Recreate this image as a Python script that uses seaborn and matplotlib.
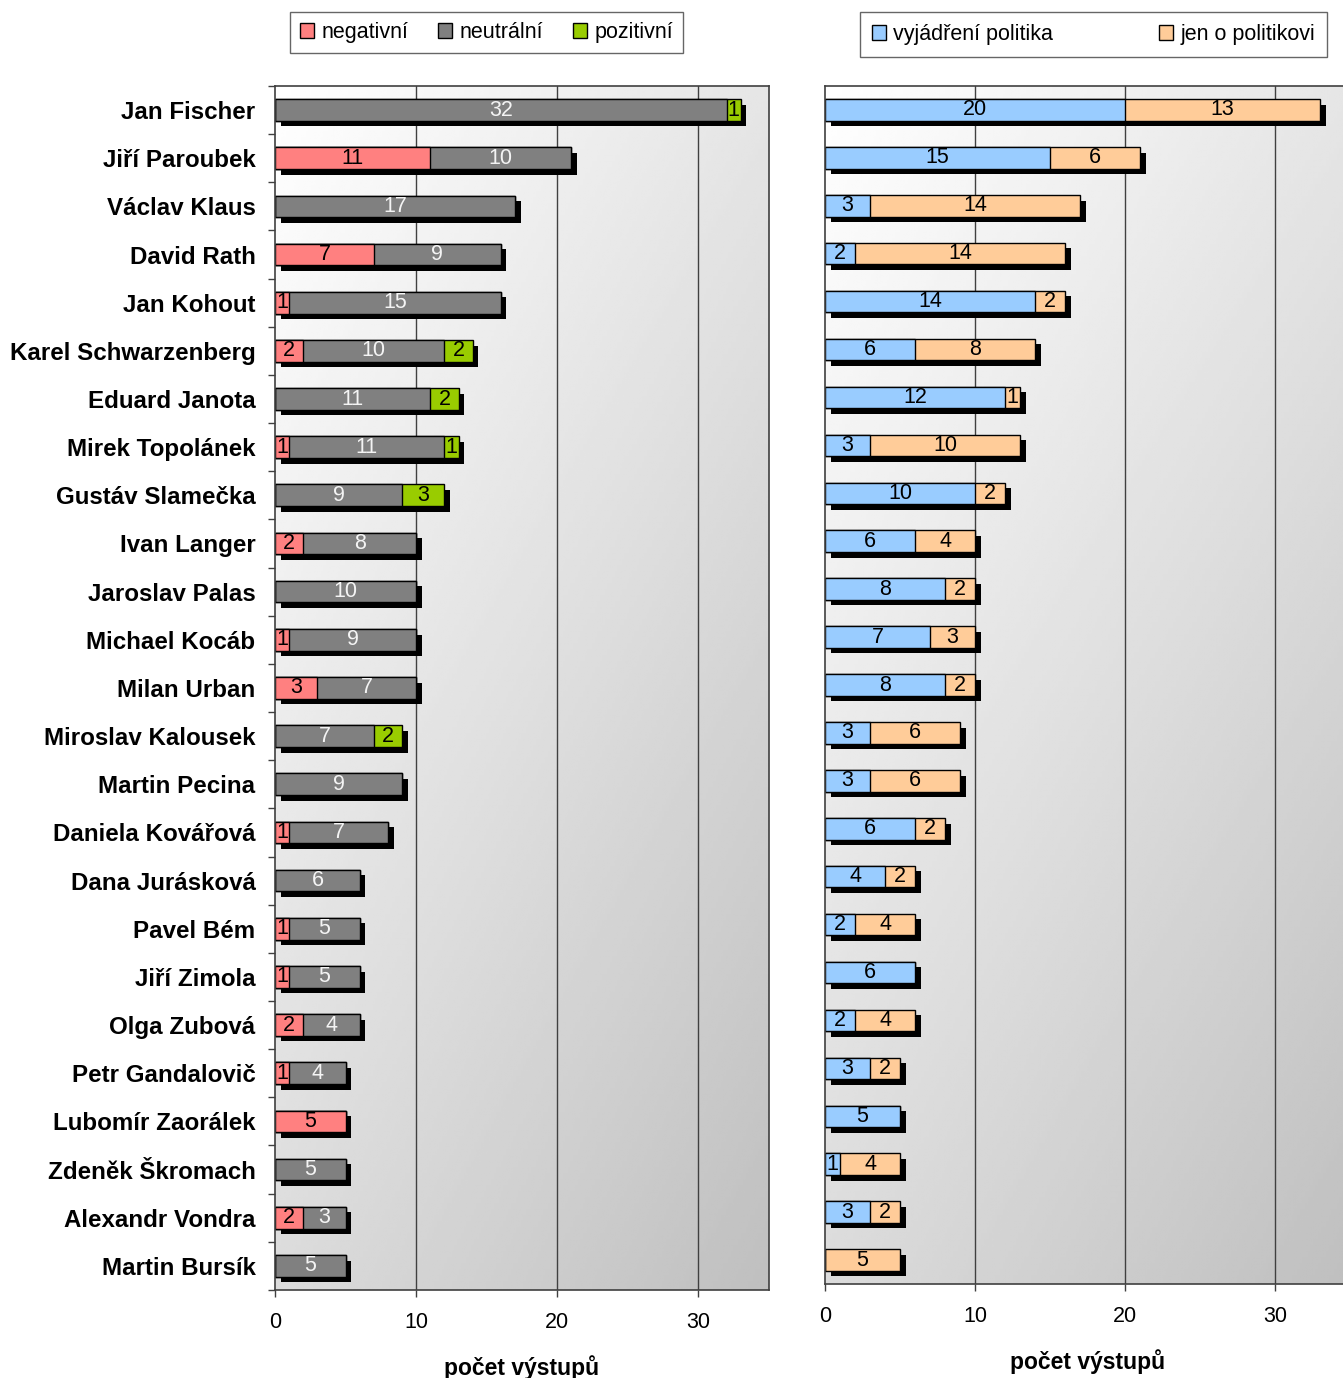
import numpy as np
import pandas as pd
import matplotlib
matplotlib.use('Agg')
import matplotlib.pyplot as plt
import matplotlib.patheffects as pe
from matplotlib.patches import Patch
import seaborn as sns

# Data
names = ['Jan Fischer', 'Jiří Paroubek', 'Václav Klaus', 'David Rath', 'Jan Kohout',
         'Karel Schwarzenberg', 'Eduard Janota', 'Mirek Topolánek', 'Gustáv Slamečka',
         'Ivan Langer', 'Jaroslav Palas', 'Michael Kocáb', 'Milan Urban',
         'Miroslav Kalousek', 'Martin Pecina', 'Daniela Kovářová', 'Dana Jurásková',
         'Pavel Bém', 'Jiří Zimola', 'Olga Zubová', 'Petr Gandalovič',
         'Lubomír Zaorálek', 'Zdeněk Škromach', 'Alexandr Vondra', 'Martin Bursík']
negativni = [0, 11, 0, 7, 1, 2, 0, 1, 0, 2, 0, 1, 3, 0, 0, 1, 0, 1, 1, 2, 1, 5, 0, 2, 0]
neutralni = [32, 10, 17, 9, 15, 10, 11, 11, 9, 8, 10, 9, 7, 7, 9, 7, 6, 5, 5, 4, 4, 0, 5, 3, 5]
pozitivni = [1, 0, 0, 0, 0, 2, 2, 1, 3, 0, 0, 0, 0, 2, 0, 0, 0, 0, 0, 0, 0, 0, 0, 0, 0]
vyjadreni = [20, 15, 3, 2, 14, 6, 12, 3, 10, 6, 8, 7, 8, 3, 3, 6, 4, 2, 6, 2, 3, 5, 1, 3, 0]
jen_o = [13, 6, 14, 14, 2, 8, 1, 10, 2, 4, 2, 3, 2, 6, 6, 2, 2, 4, 0, 4, 2, 0, 4, 2, 5]

left_series = [('negativní', negativni, '#FF8080', 'black'),
               ('neutrální', neutralni, '#808080', '#f4f4f4'),
               ('pozitivní', pozitivni, '#99CC00', 'black')]
right_series = [('vyjádření politika', vyjadreni, '#99CCFF', 'black'),
                ('jen o politikovi', jen_o, '#FFCC99', 'black')]

sns.set_style('white')
plt.rcParams['font.family'] = ['Liberation Sans', 'DejaVu Sans']
plt.rcParams['text.color'] = 'black'
plt.rcParams['axes.labelcolor'] = 'black'
plt.rcParams['xtick.color'] = 'black'
plt.rcParams['ytick.color'] = 'black'

fig = plt.figure(figsize=(13.43, 13.78), dpi=100)
ax1 = fig.add_axes([0.2048, 0.0639, 0.3678, 0.8737])
ax2 = fig.add_axes([0.6143, 0.0682, 0.3910, 0.8694])

shadow = [pe.SimplePatchShadow(offset=(4, -4), shadow_rgbFace='black', alpha=1.0), pe.Normal()]


def stacked(ax, series, xlim):
    # overlapping cumulative bars, longest first
    cum = np.cumsum([s[1] for s in series], axis=0)
    for i in range(len(series) - 1, -1, -1):
        n_before = len(ax.patches)
        df = pd.DataFrame({'name': names, 'val': cum[i]})
        sns.barplot(data=df, x='val', y='name', orient='h', color=series[i][2],
                    saturation=1, width=0.45, edgecolor='black', linewidth=1,
                    errorbar=None, ax=ax, zorder=2)
        if i == len(series) - 1:
            for p in ax.patches[n_before:]:
                p.set_path_effects(shadow)
    # segment labels
    for i, (label, vals, col, tcol) in enumerate(series):
        start = cum[i] - np.array(vals)
        for j, v in enumerate(vals):
            if v > 0:
                ax.text(start[j] + v / 2, j, str(v), ha='center', va='center',
                        fontsize=15.5, color=tcol, zorder=5)
    # gradient background (white top-left -> grey bottom-right)
    gx, gy = np.meshgrid(np.linspace(0, 1, 200), np.linspace(0, 1, 200))
    grad = 1.0 - 0.10 * gx - 0.14 * gy - 0.01 * gx * gy
    ax.imshow(grad, extent=[0, 1, 0, 1], transform=ax.transAxes, aspect='auto',
              cmap='gray', vmin=0, vmax=1, zorder=-1, interpolation='bilinear')
    ax.set_xlim(0, xlim)
    ax.set_ylim(len(names) - 0.5, -0.5)
    ax.set_xticks([0, 10, 20, 30])
    for x in [10, 20, 30]:
        ax.axvline(x, color='#404040', lw=1, zorder=1)
    ax.tick_params(axis='x', direction='out', length=5, width=1, color='#404040',
                   labelsize=15.5, pad=11, bottom=True)
    for s in ax.spines.values():
        s.set_color('#404040')
        s.set_linewidth(1.2)
    ax.set_xlabel('počet výstupů', fontsize=16.5, fontweight='bold', labelpad=16)
    ax.set_ylabel('')


stacked(ax1, left_series, 35)
stacked(ax2, right_series, 35)

ax1.tick_params(axis='y', length=0, pad=14, labelsize=17.4)
for t in ax1.get_yticklabels():
    t.set_fontweight('bold')
ax1.set_yticks(np.arange(-0.5, len(names), 1), minor=True)
ax1.tick_params(axis='y', which='minor', direction='out', length=5, width=1,
                color='#404040', left=True)
ax2.set_yticks([])
ax2.set_yticklabels([])

h1 = [Patch(facecolor=c, edgecolor='black', label=l) for l, _, c, _ in left_series]
fig.legend(handles=h1, loc='center', bbox_to_anchor=(0.3623, 0.9764), ncol=3,
           fontsize=15.5, frameon=True, fancybox=False, edgecolor='#404040',
           handlelength=0.65, handleheight=0.65, handletextpad=0.35, columnspacing=1.4,
           borderpad=0.45)
h2 = [Patch(facecolor=c, edgecolor='black', label=l) for l, _, c, _ in right_series]
fig.legend(handles=h2, loc='center', bbox_to_anchor=(0.8142, 0.975), ncol=2,
           fontsize=15.5, frameon=True, fancybox=False, edgecolor='#404040',
           handlelength=0.65, handleheight=0.65, handletextpad=0.35, columnspacing=4.9,
           borderpad=0.55)

fig.savefig('out.png', dpi=100)
